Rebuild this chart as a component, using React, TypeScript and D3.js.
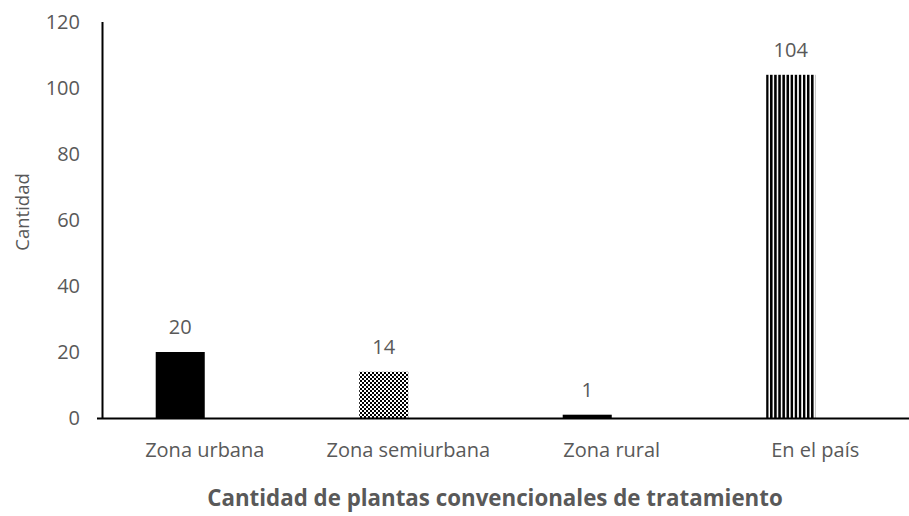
import React from "react";
import * as d3 from "d3";

const categories = ["Zona urbana", "Zona semiurbana", "Zona rural", "En el país"];
const values = [20, 14, 1, 104];
const fills = ["solid", "checker", "solid", "vstripe"];
const yTicks = [0, 20, 40, 60, 80, 100, 120];
const yTitle = "Cantidad";
const xTitle = "Cantidad de plantas convencionales de tratamiento";

const W = 909;
const H = 516;
const FONT = "'Open Sans', sans-serif";
const TEXT = "#595959";

export default function App() {
  const x = d3.scaleBand<string>().domain(categories).range([103, 917]).paddingInner(0).paddingOuter(0);
  const y = d3.scaleLinear().domain([0, 120]).range([418, 22]);
  const bw = x.bandwidth();
  const barW = bw * 0.241;
  const fillFor = (f: string) =>
    f === "checker" ? "url(#checker)" : f === "vstripe" ? "url(#vstripe)" : "#000";

  return (
    <svg width={W} height={H} style={{ position: "absolute", left: 0, top: 0, background: "#fff" }}>
      <defs>
        <pattern id="checker" width={4} height={4} patternUnits="userSpaceOnUse">
          <rect width={4} height={4} fill="#fff" />
          <rect x={0} y={0} width={2} height={2} fill="#000" />
          <rect x={2} y={2} width={2} height={2} fill="#000" />
        </pattern>
        <pattern id="vstripe" width={4.1} height={8} patternUnits="userSpaceOnUse" x={766}>
          <rect width={4.1} height={8} fill="#fff" />
          <rect x={0} y={0} width={2.5} height={8} fill="#000" />
        </pattern>
      </defs>

      {categories.map((c, i) => {
        const cx = (x(c) as number) + bw / 2;
        const x0 = cx - barW;
        const top = y(values[i]);
        return (
          <g key={c}>
            <rect x={x0} y={top} width={barW} height={y(0) - top} fill={fillFor(fills[i])} />
            <text
              x={x0 + barW / 2}
              y={top - 18}
              textAnchor="middle"
              fontFamily={FONT}
              fontSize={20}
              fill={TEXT}
            >
              {values[i]}
            </text>
            <text x={cx} y={457} textAnchor="middle" fontFamily={FONT} fontSize={20} fill={TEXT}>
              {c}
            </text>
          </g>
        );
      })}

      {/* axes */}
      <line x1={102.5} x2={102.5} y1={y(120)} y2={y(0) + 1} stroke="#000" strokeWidth={2} />
      <line x1={97} x2={W} y1={418.5} y2={418.5} stroke="#000" strokeWidth={2} />

      {yTicks.map((t) => (
        <text
          key={t}
          x={80}
          y={y(t)}
          dy="0.36em"
          textAnchor="end"
          fontFamily={FONT}
          fontSize={20}
          fill={TEXT}
        >
          {t}
        </text>
      ))}

      <text
        transform={`translate(29,212) rotate(-90)`}
        textAnchor="middle"
        fontFamily={FONT}
        fontSize={18.5}
        fill={TEXT}
      >
        {yTitle}
      </text>

      <text x={495} y={506} textAnchor="middle" fontFamily={FONT} fontSize={22.3} fontWeight="bold" fill={TEXT}>
        {xTitle}
      </text>
    </svg>
  );
}
